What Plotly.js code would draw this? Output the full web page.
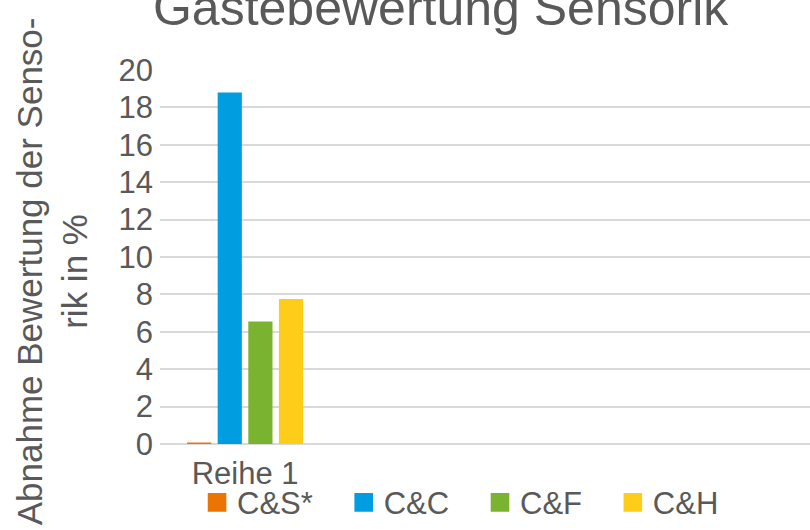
<!DOCTYPE html>
<html>
<head>
<meta charset="utf-8">
<script src="https://cdn.plot.ly/plotly-3.0.1.min.js"></script>
<style>
    html, body { margin: 0; padding: 0; background: #fff; }
    #chart { width: 810px; height: 530px; }
</style>
</head>
<body>
<div id="chart"></div>
<script>
// data
var categories = ['Reihe 1'];
var seriesNames = ['C&S*', 'C&C', 'C&F', 'C&H'];
var seriesValues = [[0.08], [18.8], [6.55], [7.75]];
var seriesColors = ['#ec7404', '#009ee0', '#7ab330', '#fecd1a'];
var yTicks = [0, 2, 4, 6, 8, 10, 12, 14, 16, 18, 20];

var grey = '#595959';
var font = 'Liberation Sans, Arial, sans-serif';

var data = [];
for (let i = 0; i < seriesNames.length; i++) {
    data.push({
        type: 'bar',
        // trailing no-break spaces widen the legend entry like in the reference
        name: seriesNames[i] + '\u00a0\u00a0\u00a0',
        x: categories,
        y: seriesValues[i],
        marker: { color: seriesColors[i], line: { width: 0 } },
        hoverinfo: 'none'
    });
}

var layout = {
    width: 810,
    height: 530,
    margin: { l: 160, r: 0, t: 70, b: 84 },
    paper_bgcolor: '#ffffff',
    plot_bgcolor: '#ffffff',
    font: { family: font, color: grey, size: 31 },
    title: {
        text: 'Gästebewertung Sensorik',
        font: { family: font, size: 50, color: grey },
        x: 0.544,
        xanchor: 'center',
        y: 0.985,
        yanchor: 'middle'
    },
    barmode: 'group',
    bargap: 0.28,
    bargroupgap: 0.21,
    showlegend: true,
    legend: {
        orientation: 'h',
        x: 0.057,
        xanchor: 'left',
        y: -0.157,
        yanchor: 'middle',
        font: { family: font, size: 31, color: grey },
        traceorder: 'normal',
        bgcolor: 'rgba(0,0,0,0)'
    },
    xaxis: {
        type: 'category',
        range: [-0.5, 3.32],
        showgrid: false,
        zeroline: false,
        showline: false,
        ticks: '',
        ticklabelstandoff: 8,
        tickfont: { family: font, size: 31, color: grey }
    },
    yaxis: {
        range: [0, 20],
        tickvals: yTicks,
        ticktext: yTicks.map(String),
        showgrid: true,
        gridcolor: '#d9d9d9',
        gridwidth: 2,
        zeroline: true,
        zerolinecolor: '#d9d9d9',
        zerolinewidth: 2,
        showline: false,
        ticks: '',
        ticklabelstandoff: 6,
        tickfont: { family: font, size: 31, color: grey }
    },
    annotations: [{
        text: 'Abnahme Bewertung der Senso-<br>rik in %',
        xref: 'paper',
        yref: 'paper',
        x: -0.166,
        y: 0.462,
        xanchor: 'center',
        yanchor: 'middle',
        textangle: -90,
        showarrow: false,
        font: { family: font, size: 35, color: grey }
    }]
};

var config = { staticPlot: true };

Plotly.newPlot('chart', data, layout, config).then(function () {
    // legend squares are bigger in the reference
    document.querySelectorAll('.legend .legendpoints path').forEach(function (p) {
        var t = p.getAttribute('transform') || '';
        p.setAttribute('transform', t + ' scale(1.55)');
    });
});
</script>
</body>
</html>
